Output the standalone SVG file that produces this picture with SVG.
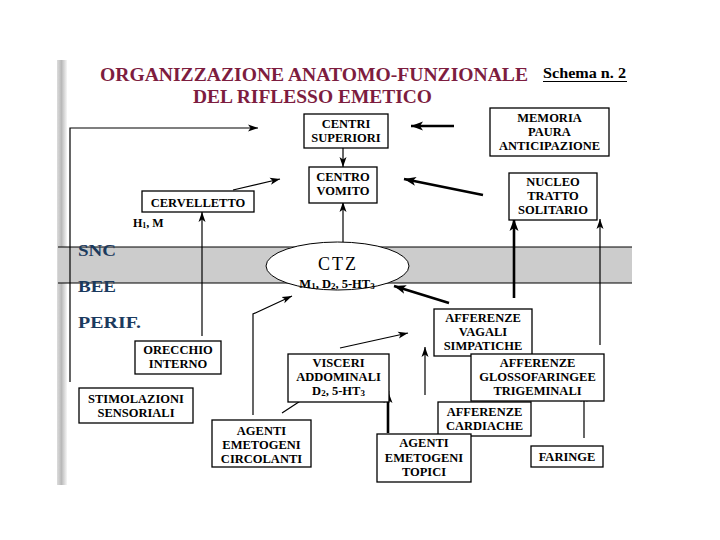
<svg xmlns="http://www.w3.org/2000/svg" width="720" height="540" viewBox="0 0 720 540">
<style>
.box{fill:#fff;stroke:#000;stroke-width:1.3}
.t{font-family:Liberation Serif,serif;font-weight:bold;font-size:12.5px;fill:#000;text-anchor:middle}
.zone{font-family:Liberation Serif,serif;font-weight:bold;font-size:17px;fill:#1b3a5e}
.title{font-family:Liberation Serif,serif;font-weight:bold;font-size:19px;fill:#7d1d3f}
.c{fill:none;stroke:#000;stroke-width:1.2}
.k{stroke-width:2.6}
</style>
<defs>
<linearGradient id="lg" x1="0" y1="0" x2="1" y2="0">
<stop offset="0" stop-color="#dcdcdc"/>
<stop offset="0.45" stop-color="#b9b9b9"/>
<stop offset="1" stop-color="#f6f6f6"/>
</linearGradient>
<marker id="a" markerUnits="userSpaceOnUse" markerWidth="10" markerHeight="8" refX="10" refY="4" orient="auto">
<path d="M0,0.5 L10,4 L0,7.5 L2.5,4 z" fill="#000"/>
</marker>
<marker id="ab" markerUnits="userSpaceOnUse" markerWidth="12" markerHeight="10" refX="12" refY="5" orient="auto">
<path d="M0,0.5 L12,5 L0,9.5 L3,5 z" fill="#000"/>
</marker>
</defs>
<rect width="720" height="540" fill="#fff"/>
<rect x="57" y="60" width="10" height="425" fill="url(#lg)"/>

<g id="title" font-family="Liberation Serif, serif">
<text class="title" x="100" y="81" textLength="428" lengthAdjust="spacingAndGlyphs">ORGANIZZAZIONE ANATOMO-FUNZIONALE</text>
<text class="title" x="193" y="103" textLength="239" lengthAdjust="spacingAndGlyphs">DEL RIFLESSO EMETICO</text>
<text x="543" y="78" font-family="Liberation Serif, serif" font-weight="bold" font-size="14" textLength="83" lengthAdjust="spacingAndGlyphs">Schema n. 2</text>
<line x1="543" y1="81.5" x2="627" y2="81.5" stroke="#000" stroke-width="1"/>
</g>

<g id="band" font-family="Liberation Serif, serif">
<rect x="58" y="247" width="574" height="36" fill="#cccccc"/>
<line x1="58" y1="247" x2="632" y2="247" stroke="#000" stroke-width="1"/>
<line x1="58" y1="283" x2="632" y2="283" stroke="#000" stroke-width="1"/>
<text class="zone" x="78" y="256" textLength="38" lengthAdjust="spacingAndGlyphs">SNC</text>
<text class="zone" x="78" y="292" textLength="38" lengthAdjust="spacingAndGlyphs">BEE</text>
<text class="zone" x="78" y="328" textLength="63" lengthAdjust="spacingAndGlyphs">PERIF.</text>
</g>

<g id="ctz" font-family="Liberation Serif, serif">
<ellipse cx="337.5" cy="266" rx="71.5" ry="24" fill="#fff" stroke="#000" stroke-width="1"/>
<text x="338" y="270" font-family="Liberation Serif, serif" font-size="18" text-anchor="middle" letter-spacing="2">CTZ</text>
<text class="t" x="337" y="288" font-size="13">M<tspan font-size="9" dy="1">1</tspan><tspan dy="-1">, D</tspan><tspan font-size="9" dy="1">2</tspan><tspan dy="-1">, 5-HT</tspan><tspan font-size="9" dy="1">3</tspan></text>
</g>

<g id="connectors">
<polyline class="c" points="70,382 70,128 258,128" marker-end="url(#a)"/>
<line class="c k" x1="454" y1="126" x2="411" y2="126" marker-end="url(#ab)"/>
<line class="c" x1="343" y1="148" x2="343" y2="167" marker-end="url(#a)"/>
<line class="c" x1="233" y1="190" x2="280" y2="179" marker-end="url(#a)"/>
<line class="c" x1="202" y1="336" x2="202" y2="212" marker-end="url(#a)"/>
<line class="c" x1="343" y1="242" x2="343" y2="202" marker-end="url(#a)"/>
<line class="c k" x1="483" y1="195" x2="404" y2="179" marker-end="url(#ab)"/>
<line class="c k" x1="449" y1="303" x2="394" y2="286" marker-end="url(#ab)"/>
<polyline class="c" points="253,415 253,314 292,296" marker-end="url(#a)"/>
<line class="c" x1="282" y1="413" x2="311" y2="394" marker-end="url(#a)"/>
<line class="c" x1="340" y1="348" x2="408" y2="333" marker-end="url(#a)"/>
<line class="c k" x1="388" y1="433" x2="388" y2="391" marker-end="url(#ab)"/>
<line class="c" x1="425" y1="395" x2="425" y2="347" marker-end="url(#a)"/>
<line class="c" x1="584" y1="438" x2="584" y2="392" marker-end="url(#a)"/>
<line class="c k" x1="514" y1="298" x2="514" y2="219" marker-end="url(#ab)"/>
<line class="c" x1="600" y1="345" x2="600" y2="219" marker-end="url(#a)"/>
</g>

<g id="nodes" font-family="Liberation Serif, serif">
<g id="centri-superiori">
<rect class="box" x="304" y="114" width="84" height="34"/>
<text class="t" x="346" y="128">CENTRI</text>
<text class="t" x="346" y="142">SUPERIORI</text>
</g>
<g id="centro-vomito">
<rect class="box" x="309" y="167" width="68" height="36"/>
<text class="t" x="343" y="181">CENTRO</text>
<text class="t" x="343" y="195">VOMITO</text>
</g>
<g id="cervelletto">
<rect class="box" x="142" y="191" width="112" height="21"/>
<text class="t" x="198" y="207">CERVELLETTO</text>
<text class="t" x="133" y="227" style="text-anchor:start;font-size:12px">H<tspan font-size="8" dy="1">1</tspan><tspan dy="-1">, M</tspan></text>
</g>
<g id="memoria">
<rect class="box" x="490" y="108" width="119" height="48"/>
<text class="t" x="549.5" y="122">MEMORIA</text>
<text class="t" x="549.5" y="136">PAURA</text>
<text class="t" x="549.5" y="150">ANTICIPAZIONE</text>
</g>
<g id="nts">
<rect class="box" x="509" y="173" width="88" height="47"/>
<text class="t" x="553" y="186">NUCLEO</text>
<text class="t" x="553" y="200">TRATTO</text>
<text class="t" x="553" y="214">SOLITARIO</text>
</g>
<g id="afferenze-vagali">
<rect class="box" x="434" y="309" width="98" height="47"/>
<text class="t" x="483" y="322">AFFERENZE</text>
<text class="t" x="483" y="336">VAGALI</text>
<text class="t" x="483" y="350">SIMPATICHE</text>
</g>
<g id="afferenze-glosso">
<rect class="box" x="471" y="354" width="133" height="47"/>
<text class="t" x="537.5" y="367">AFFERENZE</text>
<text class="t" x="537.5" y="381">GLOSSOFARINGEE</text>
<text class="t" x="537.5" y="395">TRIGEMINALI</text>
</g>
<g id="afferenze-cardiache">
<rect class="box" x="438" y="402" width="93" height="34"/>
<text class="t" x="484.5" y="416">AFFERENZE</text>
<text class="t" x="484.5" y="430">CARDIACHE</text>
</g>
<g id="agenti-topici">
<rect class="box" x="377" y="434" width="94" height="48"/>
<text class="t" x="424" y="447">AGENTI</text>
<text class="t" x="424" y="462">EMETOGENI</text>
<text class="t" x="424" y="476">TOPICI</text>
</g>
<g id="faringe">
<rect class="box" x="531" y="446" width="72" height="21"/>
<text class="t" x="567" y="461">FARINGE</text>
</g>
<g id="visceri">
<rect class="box" x="288" y="354" width="101" height="48"/>
<text class="t" x="338.5" y="367">VISCERI</text>
<text class="t" x="338.5" y="381">ADDOMINALI</text>
<text class="t" x="338.5" y="395">D<tspan font-size="9" dy="1">2</tspan><tspan dy="-1">, 5-HT</tspan><tspan font-size="9" dy="1">3</tspan></text>
</g>
<g id="agenti-circolanti">
<rect class="box" x="212" y="420" width="99" height="47"/>
<text class="t" x="261.5" y="435">AGENTI</text>
<text class="t" x="261.5" y="449">EMETOGENI</text>
<text class="t" x="261.5" y="463">CIRCOLANTI</text>
</g>
<g id="stimolazioni">
<rect class="box" x="79" y="388" width="114" height="35"/>
<text class="t" x="136" y="403">STIMOLAZIONI</text>
<text class="t" x="136" y="417">SENSORIALI</text>
</g>
<g id="orecchio">
<rect class="box" x="135" y="341" width="86" height="33"/>
<text class="t" x="178" y="354">ORECCHIO</text>
<text class="t" x="178" y="368">INTERNO</text>
</g>
</g>
</svg>
